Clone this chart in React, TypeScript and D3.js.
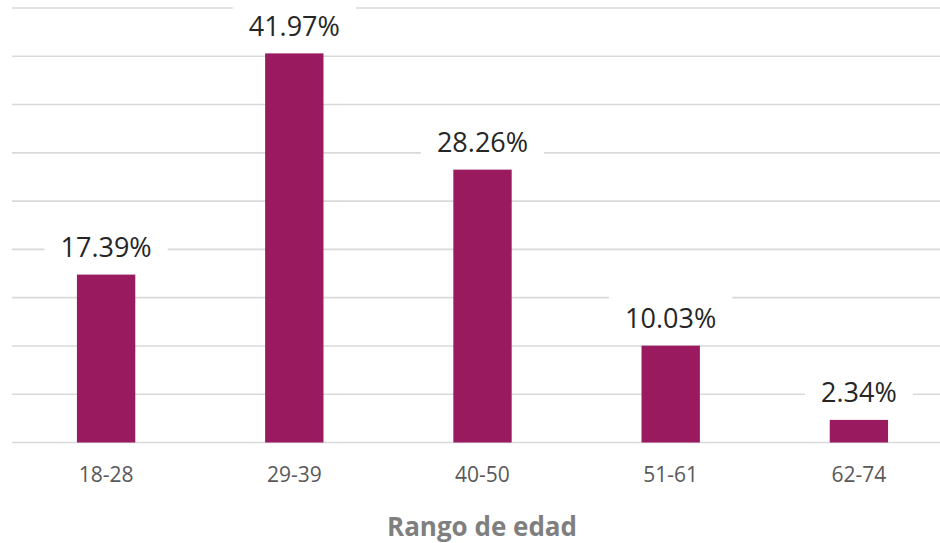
import React from "react";
import * as d3 from "d3";

const categories = ["18-28", "29-39", "40-50", "51-61", "62-74"];
// bar heights as drawn in the picture (%)
const barValues = [17.39, 40.3, 28.26, 10.03, 2.34];
// data label texts
const labelTexts = ["17.39%", "41.97%", "28.26%", "10.03%", "2.34%"];
const gridTicks = [0, 5, 10, 15, 20, 25, 30, 35, 40, 45];
const axisTitle = "Rango de edad";

const W = 940;
const H = 543;
const FONT = "'Open Sans', 'Noto Sans', sans-serif";

export default function App() {
  const x = d3
    .scaleBand<string>()
    .domain(categories)
    .range([12, 953])
    .paddingInner(0.69)
    .paddingOuter(0.345);
  const y = d3.scaleLinear().domain([0, 45]).range([442.5, 8]);

  const labelFont = 27;
  const charW = (s: string) => {
    let w = 0;
    for (const c of s) {
      if (c === ".") w += 0.27;
      else if (c === "%") w += 0.82;
      else w += 0.572;
    }
    return w * labelFont;
  };

  return (
    <svg
      width={W}
      height={H}
      style={{ position: "absolute", left: 0, top: 0, background: "#fff" }}
    >
      <rect x={0} y={0} width={W} height={H} fill="#fff" />
      {gridTicks.map((t) => (
        <line
          key={t}
          x1={12}
          x2={953}
          y1={y(t)}
          y2={y(t)}
          stroke="#d9d9d9"
          strokeWidth={1.6}
        />
      ))}
      {categories.map((c, i) => (
        <rect
          key={c}
          x={x(c)}
          y={y(barValues[i])}
          width={x.bandwidth()}
          height={y(0) - y(barValues[i])}
          fill="#991a5e"
        />
      ))}
      {categories.map((c, i) => {
        const cx = (x(c) as number) + x.bandwidth() / 2;
        const base = y(barValues[i]) - 17.5;
        const tw = charW(labelTexts[i]);
        return (
          <g key={c}>
            <rect
              x={cx - tw / 2 - 16}
              y={base - 34}
              width={tw + 32}
              height={42}
              fill="#fff"
            />
            <text
              x={cx}
              y={base}
              textAnchor="middle"
              fontFamily={FONT}
              fontSize={labelFont}
              fill="#262626"
            >
              {labelTexts[i]}
            </text>
          </g>
        );
      })}
      {categories.map((c) => (
        <text
          key={c}
          x={(x(c) as number) + x.bandwidth() / 2}
          y={481.5}
          textAnchor="middle"
          fontFamily={FONT}
          fontSize={21}
          fill="#595959"
        >
          {c}
        </text>
      ))}
      <text
        x={482}
        y={536}
        textAnchor="middle"
        fontFamily={FONT}
        fontSize={26}
        fontWeight="bold"
        fill="#7f7f7f"
      >
        {axisTitle}
      </text>
    </svg>
  );
}
